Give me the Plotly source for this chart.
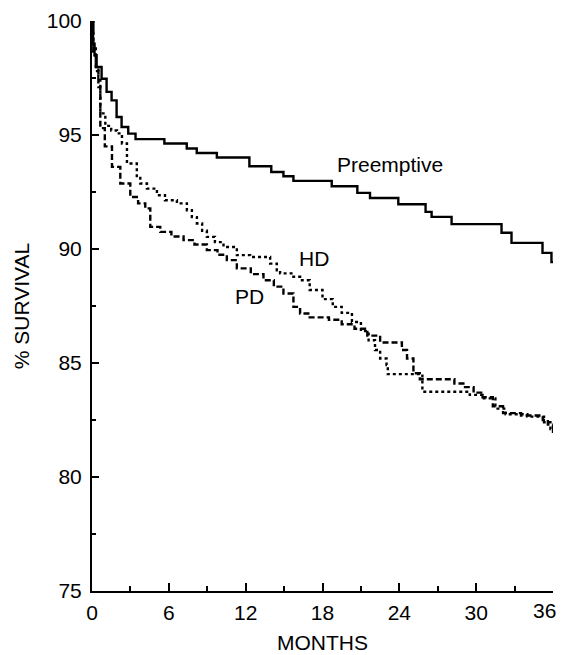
import plotly.graph_objects as go

# Kaplan-Meier style survival curves (months, % survival)
pre_months = [0, 0.08, 0.2, 0.36, 0.75, 1.14, 1.53, 1.92, 2.31, 2.83, 3.4, 5.65, 7.4, 8.18,
              9.75, 12.29, 14.0, 14.95, 15.73, 18.72, 20.72, 21.71, 23.92, 26.05, 26.52,
              28.08, 31.98, 32.76, 35.18, 35.88, 36]
pre_surv = [100, 99.0, 98.5, 97.98, 97.47, 96.89, 96.52, 95.79, 95.35, 95.06, 94.82, 94.63,
            94.41, 94.21, 94.01, 93.63, 93.38, 93.19, 92.99, 92.75, 92.46, 92.24, 91.96,
            91.63, 91.41, 91.09, 90.71, 90.27, 89.83, 89.43, 89.43]

hd_months = [0, 0.1, 0.3, 0.5, 0.65, 1.04, 1.5, 1.95, 2.34, 2.73, 3.12, 3.5, 3.77, 4.29,
             5.07, 5.7, 6.63, 7.41, 7.8, 8.19, 8.6, 8.97, 9.6, 10.27, 11.31, 12.35, 13.91,
             14.43, 14.69, 15.73, 16.25, 17.0, 18.0, 18.8, 19.5, 20.3, 21.0, 21.6, 22.1,
             22.5, 23.0, 23.1, 25.35, 25.8, 28.7, 29.5, 30.5, 31.5, 32.3, 34.0, 35.3,
             35.8, 36]
hd_surv = [100, 98.8, 98.0, 97.55, 95.95, 95.4, 95.2, 95.07, 94.63, 93.75, 93.75, 93.2,
           92.87, 92.65, 92.36, 92.14, 92.0, 91.7, 91.4, 91.12, 90.8, 90.53, 90.3, 90.09,
           89.73, 89.65, 89.36, 89.07, 88.93, 88.78, 88.63, 88.2, 87.8, 87.46, 87.2, 86.8,
           86.4, 86.0, 85.57, 85.2, 84.91, 84.51, 84.51, 83.74, 83.74, 83.6, 83.45, 83.0,
           82.75, 82.65, 82.4, 82.1, 81.9]

pd_months = [0, 0.1, 0.3, 0.5, 0.65, 1.0, 1.56, 2.21, 2.99, 3.6, 4.16, 4.55, 5.33, 6.2,
             7.15, 8.0, 8.97, 9.8, 10.53, 11.31, 12.4, 13.39, 14.2, 14.95, 15.73, 16.25,
             17.0, 18.5, 19.5, 20.5, 21.5, 22.5, 24.2, 24.6, 25.1, 25.6, 27.95, 28.3, 29.0,
             29.8, 30.5, 31.3, 32.1, 33.5, 35.2, 35.6, 36]
pd_surv = [100, 98.5, 97.8, 97.1, 95.3, 94.5, 93.6, 92.87, 92.28, 92.0, 91.78, 90.97,
           90.75, 90.55, 90.39, 90.2, 89.95, 89.75, 89.51, 89.15, 88.9, 88.63, 88.35,
           88.05, 87.46, 87.17, 87.0, 86.9, 86.7, 86.5, 86.2, 85.9, 85.57, 85.2, 84.55,
           84.29, 84.29, 84.1, 83.94, 83.7, 83.5, 83.1, 82.8, 82.7, 82.5, 82.3, 82.0]

x_ticks = [0, 6, 12, 18, 24, 30, 36]
y_ticks = [75, 80, 85, 90, 95, 100]

FONT = "Liberation Sans, Arial, Helvetica, sans-serif"

fig = go.Figure()
fig.add_trace(go.Scatter(x=pre_months, y=pre_surv, mode="lines", line_shape="hv",
                         line=dict(color="black", width=2.4), cliponaxis=False))
fig.add_trace(go.Scatter(x=hd_months, y=hd_surv, mode="lines", line_shape="hv",
                         line=dict(color="black", width=2.4, dash="3px,3px"), cliponaxis=False))
fig.add_trace(go.Scatter(x=pd_months, y=pd_surv, mode="lines", line_shape="hv",
                         line=dict(color="black", width=2.4, dash="6px,3px"), cliponaxis=False))

# curve labels
for txt, xm, ys in [("Preemptive", 23.27, 93.72), ("HD", 17.32, 89.57), ("PD", 12.29, 87.9)]:
    fig.add_annotation(x=xm, y=ys, text=txt, showarrow=False,
                       font=dict(family=FONT, size=21, color="black"))

# last x tick label would be cut at the window edge, so it is drawn right-aligned
last_tick = x_ticks[-1]
fig.add_annotation(x=last_tick, xref="x", y=0, yref="paper", text=str(last_tick),
                   showarrow=False, xanchor="right", yanchor="top", xshift=5, yshift=-6,
                   font=dict(family=FONT, size=21, color="black"))

axis_common = dict(showgrid=False, zeroline=False, showline=True, linecolor="black",
                   linewidth=2, ticks="inside", tickcolor="black", tickwidth=1.5,
                   automargin=False,
                   tickfont=dict(family=FONT, size=21, color="black"))

fig.update_xaxes(range=[0, 36], tickvals=x_ticks,
                 ticktext=[str(v) if v != last_tick else "" for v in x_ticks],
                 ticklen=8, ticklabelstandoff=2,
                 minor=dict(ticks="inside", dtick=3, ticklen=5,
                            tickcolor="black", tickwidth=1.5),
                 title=dict(text="MONTHS", font=dict(family=FONT, size=21, color="black"),
                            standoff=12),
                 **axis_common)
fig.update_yaxes(range=[75, 100], tickvals=y_ticks, ticktext=[str(v) for v in y_ticks],
                 ticklen=7, ticklabelstandoff=4,
                 minor=dict(ticks="inside", dtick=2.5, ticklen=4,
                            tickcolor="black", tickwidth=1.5),
                 title=dict(text="% SURVIVAL", font=dict(family=FONT, size=21, color="black"),
                            standoff=11),
                 **axis_common)

# the page body adds an 8px offset, so margins are shifted accordingly
fig.update_layout(width=566, height=655, showlegend=False,
                  margin=dict(l=84, r=21, t=13, b=72),
                  plot_bgcolor="white", paper_bgcolor="white")

fig.write_html("out.html")
